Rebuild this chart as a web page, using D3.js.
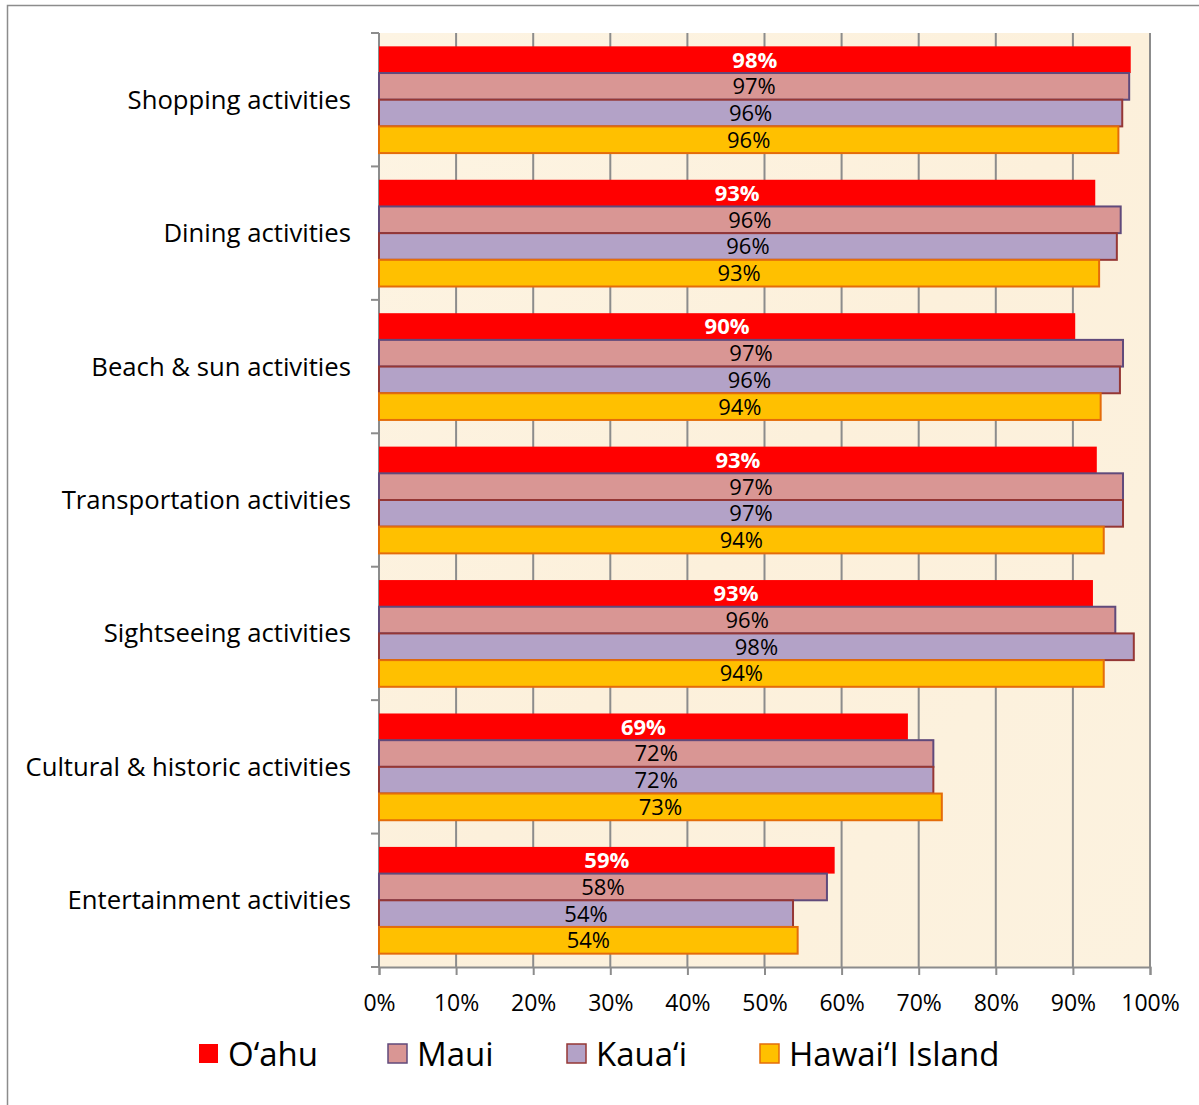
<!DOCTYPE html>
<html>
<head>
<meta charset="utf-8">
<script src="https://cdn.jsdelivr.net/npm/d3@7"></script>
<style>
  body { margin: 0; background: #fff; }
  svg { display: block; font-family: "Open Sans", sans-serif; }
</style>
</head>
<body>
<script>
// activity categories, top to bottom
const categories = ["Shopping activities", "Dining activities", "Beach & sun activities",
  "Transportation activities", "Sightseeing activities", "Cultural & historic activities",
  "Entertainment activities"];

const islands = ["O\u2018ahu", "Maui", "Kaua\u2018i", "Hawai\u2018I Island"];

// share of visitors (%) per island, same order as categories
const oahu   = [97.5, 92.9, 90.3, 93.1, 92.6, 68.6, 59.1];
const maui   = [97.3, 96.2, 96.5, 96.5, 95.5, 71.9, 58.1];
const kauai  = [96.4, 95.7, 96.1, 96.5, 97.9, 71.9, 53.7];
const hawaii = [95.9, 93.4, 93.6, 94.0, 94.0, 73.0, 54.3];

const xTicks = [0, 10, 20, 30, 40, 50, 60, 70, 80, 90, 100];

const seriesValues = [oahu, maui, kauai, hawaii];
const fills   = ["#FF0000", "#D99694", "#B3A2C7", "#FFC000"];
const strokes = ["none", "#604A7B", "#953735", "#E46C0A"];

const width = 1199, height = 1105;
const plot = { left: 379, right: 1150, top: 33, bottom: 967 };

const svg = d3.select("body").append("svg")
  .attr("width", width)
  .attr("height", height);

// outer chart border
svg.append("rect")
  .attr("x", 7.5).attr("y", 5.5)
  .attr("width", width + 20).attr("height", height + 20)
  .attr("fill", "#fff")
  .attr("stroke", "#8c8c8c")
  .attr("stroke-width", 1.5);

const x = d3.scaleLinear().domain([0, 100]).range([plot.left, plot.right]);
const y = d3.scaleBand().domain(categories).range([plot.top, plot.bottom]).paddingInner(0.2).paddingOuter(0.1);
const ySub = d3.scaleBand().domain(d3.range(islands.length)).range([0, y.bandwidth()]);
const yEdges = d3.scaleLinear().domain([0, categories.length]).range([plot.top, plot.bottom]);

// parchment plot background
const defs = svg.append("defs");
const grad = defs.append("linearGradient").attr("id", "parch").attr("x1", 0).attr("x2", 1).attr("y1", 0).attr("y2", 1);
grad.append("stop").attr("offset", "0%").attr("stop-color", "#FDF4E3");
grad.append("stop").attr("offset", "50%").attr("stop-color", "#FCF0DB");
grad.append("stop").attr("offset", "100%").attr("stop-color", "#FCF2DF");

svg.append("rect")
  .attr("x", plot.left).attr("y", plot.top)
  .attr("width", plot.right - plot.left).attr("height", plot.bottom - plot.top)
  .attr("fill", "url(#parch)");

// vertical gridlines
svg.append("g")
  .selectAll("line")
  .data(xTicks.slice(1))
  .join("line")
  .attr("x1", d => x(d)).attr("x2", d => x(d))
  .attr("y1", plot.top).attr("y2", plot.bottom)
  .attr("stroke", "#8c8c8c")
  .attr("stroke-width", 2);

// x axis
const xAxis = svg.append("g")
  .attr("transform", `translate(0,${plot.bottom})`)
  .call(d3.axisBottom(x).tickValues(xTicks).tickFormat(d => d + "%").tickSize(8).tickPadding(20));
xAxis.select(".domain").attr("stroke", "#8c8c8c").attr("stroke-width", 2);
xAxis.selectAll(".tick line").attr("stroke", "#8c8c8c").attr("stroke-width", 2);
xAxis.selectAll("text").attr("font-size", 23).attr("fill", "#000").attr("font-family", "Open Sans");

// y axis line and category boundary ticks
svg.append("line")
  .attr("x1", plot.left).attr("x2", plot.left)
  .attr("y1", plot.top).attr("y2", plot.bottom)
  .attr("stroke", "#8c8c8c").attr("stroke-width", 2);
svg.append("g")
  .selectAll("line")
  .data(d3.range(categories.length + 1))
  .join("line")
  .attr("x1", plot.left - 8).attr("x2", plot.left)
  .attr("y1", d => yEdges(d)).attr("y2", d => yEdges(d))
  .attr("stroke", "#8c8c8c").attr("stroke-width", 2);

// category labels
svg.append("g")
  .selectAll("text")
  .data(categories)
  .join("text")
  .attr("x", 351)
  .attr("y", d => y(d) + y.bandwidth() / 2)
  .attr("dy", "0.35em")
  .attr("text-anchor", "end")
  .attr("font-size", 25.7)
  .attr("fill", "#000")
  .text(d => d);

// bars
const rows = [];
seriesValues.forEach((vals, s) => {
  vals.forEach((v, i) => rows.push({ s, cat: categories[i], v }));
});

const bars = svg.append("g");
bars.selectAll("rect")
  .data(rows)
  .join("rect")
  .attr("x", x(0))
  .attr("y", d => y(d.cat) + ySub(d.s))
  .attr("width", d => x(d.v) - x(0))
  .attr("height", ySub.bandwidth())
  .attr("fill", d => fills[d.s])
  .attr("stroke", d => strokes[d.s])
  .attr("stroke-width", 2);

bars.selectAll("text")
  .data(rows)
  .join("text")
  .attr("x", d => (x(0) + x(d.v)) / 2)
  .attr("y", d => y(d.cat) + ySub(d.s) + ySub.bandwidth() / 2)
  .attr("dy", "0.36em")
  .attr("text-anchor", "middle")
  .attr("font-size", 22)
  .attr("font-weight", d => d.s === 0 ? "bold" : "normal")
  .attr("fill", d => d.s === 0 ? "#fff" : "#000")
  .text(d => Math.round(d.v) + "%");

// legend
const legendX = [199, 388, 567, 760];
const legend = svg.append("g")
  .selectAll("g")
  .data(islands)
  .join("g")
  .attr("transform", (d, i) => `translate(${legendX[i]},1044)`);
legend.append("rect")
  .attr("width", 19).attr("height", 19)
  .attr("fill", (d, i) => fills[i])
  .attr("stroke", (d, i) => strokes[i])
  .attr("stroke-width", 1.5);
legend.append("text")
  .attr("x", 29).attr("y", 10)
  .attr("dy", "0.36em")
  .attr("font-size", 33)
  .attr("fill", "#000")
  .text(d => d);
</script>
</body>
</html>
